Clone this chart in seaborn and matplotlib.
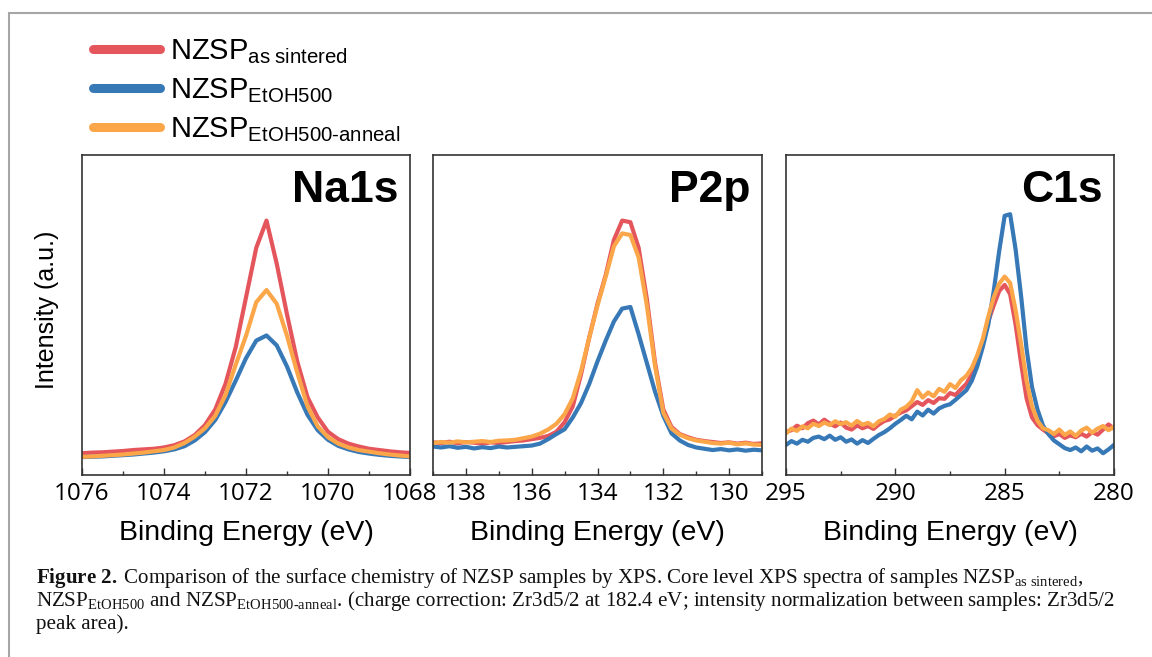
import numpy as np
import pandas as pd
import matplotlib
matplotlib.use("Agg")
import matplotlib.pyplot as plt
import seaborn as sns
from matplotlib import font_manager
from matplotlib.lines import Line2D
from matplotlib.ticker import MultipleLocator

# ---------------- data ----------------
SAMPLES = ["as sintered", "EtOH500", "EtOH500-anneal"]
COLORS = ["#E4555C", "#3778B6", "#FBA649"]
PANEL_TITLES = ["Na1s", "P2p", "C1s"]

NA_EV = np.arange(1076.0, 1067.99, -0.25)
NA_AS_SINTERED = [6.8, 7.0, 7.1, 7.3, 7.5, 7.8, 8.0, 8.2, 8.6, 9.3,
                  10.5, 12.5, 15.6, 20.5, 28.5, 40.0, 55.5, 71.0, 79.5, 66.0,
                  50.2, 35.5, 24.3, 18.0, 13.5, 11.2, 9.8, 8.9, 8.2, 7.8,
                  7.4, 7.1, 6.9]
NA_ETOH500 = [5.6, 5.7, 5.8, 6.0, 6.2, 6.4, 6.7, 7.0, 7.4, 8.0,
              9.0, 10.8, 13.4, 17.2, 22.8, 29.5, 36.5, 42.0, 43.6, 40.5,
              33.9, 25.8, 18.8, 14.0, 11.0, 9.1, 8.0, 7.2, 6.7, 6.3,
              6.0, 5.8, 5.6]
NA_ETOH500_ANNEAL = [5.7, 5.8, 6.0, 6.2, 6.4, 6.7, 7.0, 7.4, 7.8, 8.6,
                     10.0, 12.0, 14.6, 18.5, 25.0, 34.5, 43.5, 54.0, 57.8, 53.5,
                     43.5, 32.0, 21.5, 15.2, 11.8, 9.8, 8.6, 7.8, 7.3, 6.8,
                     6.4, 6.1, 5.8]

P_EV = np.arange(139.0, 128.99, -0.25)
P_AS_SINTERED = [10.2, 10.0, 10.4, 9.9, 10.3, 10.1, 9.8, 10.2, 10.0, 10.3,
                 10.6, 10.8, 11.2, 11.6, 12.2, 13.5, 16.5, 21.5, 31.5, 43.0,
                 53.5, 62.5, 73.5, 79.5, 79.0, 71.0, 55.0, 35.0, 20.5, 15.0,
                 12.8, 11.8, 11.0, 10.6, 10.3, 10.0, 10.2, 9.8, 10.1, 9.7,
                 9.9]
P_ETOH500 = [8.9, 8.6, 9.0, 8.5, 8.8, 8.3, 8.7, 8.4, 8.9, 8.6,
             8.8, 9.0, 9.2, 9.8, 11.2, 12.8, 14.3, 18.0, 22.5, 28.5,
             35.5, 42.0, 48.0, 52.0, 52.5, 44.0, 35.0, 26.0, 18.5, 13.0,
             10.8, 9.4, 8.6, 8.2, 7.8, 8.1, 7.7, 8.0, 7.6, 7.9,
             7.7]
P_ETOH500_ANNEAL = [10.0, 10.3, 10.1, 10.5, 10.2, 10.4, 10.6, 10.3, 10.7, 10.8,
                    11.0, 11.5, 12.0, 12.9, 14.2, 16.0, 19.0, 24.0, 32.5, 43.0,
                    53.0, 62.0, 71.5, 75.5, 75.0, 68.0, 53.0, 34.0, 19.5, 14.5,
                    12.6, 11.5, 10.8, 10.4, 10.0, 9.8, 10.1, 9.6, 9.9, 9.5,
                    9.4]

C_EV = np.arange(295.0, 279.99, -0.25)
C_AS_SINTERED = [13.5, 14.0, 15.4, 14.6, 16.2, 17.0, 15.8, 17.3, 16.1, 15.2,
                 16.4, 14.8, 14.2, 15.5, 14.6, 15.3, 14.4, 15.8, 16.9, 17.4,
                 18.6, 19.5, 20.2, 21.5, 22.8, 21.9, 23.4, 22.5, 24.0, 23.8,
                 25.6, 25.0, 26.8, 28.5, 31.5, 36.0, 41.5, 48.0, 53.0, 57.5,
                 59.4, 56.5, 47.0, 35.0, 24.0, 18.0, 15.6, 14.2, 13.0, 12.1,
                 12.8, 11.6, 12.4, 11.8, 12.9, 12.0, 13.4, 12.6, 14.2, 15.8,
                 14.5]
C_ETOH500 = [9.4, 10.6, 9.8, 11.0, 10.4, 11.6, 12.0, 11.2, 12.3, 11.0,
             11.8, 10.4, 11.1, 9.8, 10.9, 10.0, 11.3, 12.5, 13.4, 14.6,
             16.0, 17.2, 18.5, 17.4, 19.8, 18.6, 20.4, 19.2, 20.8, 21.6,
             22.1, 23.5, 25.0, 26.5, 29.5, 34.0, 40.0, 47.0, 57.5, 70.0,
             81.0, 81.5, 70.5, 56.0, 39.5, 27.5, 20.5, 15.5, 12.8, 10.8,
             9.6, 8.4, 7.8, 8.6, 7.4, 8.9, 7.6, 8.3, 6.8, 8.0,
             9.4]
C_ETOH500_ANNEAL = [13.0, 14.5, 13.8, 15.2, 14.6, 16.0, 15.3, 16.4, 15.6, 16.8,
                    15.9, 16.5, 15.4, 16.9, 15.7, 16.3, 15.2, 16.8, 17.5, 18.9,
                    18.2, 20.4, 21.3, 23.0, 26.5, 24.2, 25.8, 24.6, 26.9, 26.0,
                    28.4, 27.2, 29.6, 31.0, 33.5, 37.5, 42.5, 49.5, 55.5, 59.8,
                    62.0, 60.0, 51.5, 41.0, 29.5, 21.5, 17.0, 14.6, 14.0, 12.8,
                    14.2, 12.5, 13.6, 12.2, 13.9, 14.8, 13.2, 14.5, 15.3, 14.0,
                    15.1]

XLIMS = [(1076, 1068), (139, 129), (295, 280)]
MAJOR_STEP = [2, 2, 5]
MINOR_STEP = [1, 1, 2.5]

PANELS = [
    (NA_EV, [NA_AS_SINTERED, NA_ETOH500, NA_ETOH500_ANNEAL]),
    (P_EV, [P_AS_SINTERED, P_ETOH500, P_ETOH500_ANNEAL]),
    (C_EV, [C_AS_SINTERED, C_ETOH500, C_ETOH500_ANNEAL]),
]

# ---------------- style ----------------
sns.set_theme(style="white")


def have(fam):
    try:
        font_manager.findfont(font_manager.FontProperties(family=fam),
                              fallback_to_default=False)
        return True
    except Exception:
        return False


SANS = "Liberation Sans" if have("Liberation Sans") else "DejaVu Sans"
NARROW = "Liberation Sans Narrow" if have("Liberation Sans Narrow") else SANS
LEG_SIZE = 24 if NARROW != SANS else 21
TICKF = "Open Sans" if have("Open Sans") else SANS
SERIF = "Liberation Serif" if have("Liberation Serif") else "DejaVu Serif"

plt.rcParams["font.family"] = [SANS, "DejaVu Sans"]
plt.rcParams["text.color"] = "black"
plt.rcParams["axes.labelcolor"] = "black"
plt.rcParams["xtick.color"] = "black"
plt.rcParams["mathtext.fontset"] = "custom"
plt.rcParams["mathtext.rm"] = SERIF
plt.rcParams["mathtext.it"] = SERIF + ":italic"
plt.rcParams["mathtext.bf"] = SERIF + ":bold"

W, H = 1152, 657
fig = plt.figure(figsize=(W / 100, H / 100), dpi=100)
fig.patch.set_facecolor("white")

ax_px = [(82, 410), (433, 762), (786, 1114)]
top_px, bot_px = 155, 475
palette = dict(zip(SAMPLES, COLORS))

axes = []
for i, ((ev, series), (x0, x1)) in enumerate(zip(PANELS, ax_px)):
    ax = fig.add_axes([x0 / W, 1 - bot_px / H, (x1 - x0) / W, (bot_px - top_px) / H])
    frames = []
    for name, vals in zip(SAMPLES, series):
        frames.append(pd.DataFrame({"eV": ev, "I": vals, "sample": name}))
    df = pd.concat(frames, ignore_index=True)
    sns.lineplot(data=df, x="eV", y="I", hue="sample", hue_order=SAMPLES,
                 palette=palette, sort=False, estimator=None, linewidth=3.0,
                 legend=False, ax=ax)
    ax.set_xlim(*XLIMS[i])
    ax.set_ylim(0, 100)
    ax.set_yticks([])
    ax.set_ylabel("")
    ax.xaxis.set_major_locator(MultipleLocator(MAJOR_STEP[i]))
    ax.xaxis.set_minor_locator(MultipleLocator(MINOR_STEP[i]))
    ax.tick_params(axis="x", which="major", direction="in", length=5, width=1.0,
                   color="#333333", labelcolor="black", pad=5, labelsize=17.5,
                   bottom=True)
    ax.tick_params(axis="x", which="minor", direction="in", length=3, width=1.0,
                   color="#333333", bottom=True)
    for lab in ax.get_xticklabels():
        lab.set_family([TICKF, "DejaVu Sans"])
    for sp in ax.spines.values():
        sp.set_color("#333333")
        sp.set_linewidth(1.2)
        sp.set_visible(True)
    ax.set_xlabel("Binding Energy (eV)", fontsize=20.5, labelpad=10,
                  family=[SANS, "DejaVu Sans"], color="black")
    ax.text(0.966, 0.952, PANEL_TITLES[i], transform=ax.transAxes, ha="right",
            va="top", fontsize=32, fontweight="bold", color="black",
            family=[SANS, "DejaVu Sans"])
    ax.set_facecolor("white")
    axes.append(ax)

fig.text(47 / W, 1 - 310 / H, "Intensity (a.u.)", rotation=90, ha="center",
         va="center", fontsize=18, color="black", family=[SANS, "DejaVu Sans"])

# legend
leg_px = LEG_SIZE * 100 / 72
handles = [Line2D([0], [0], color=c, lw=6.5, solid_capstyle="round") for c in COLORS]
labels = [r"$\mathregular{NZSP_{as\ sintered}}$",
          r"$\mathregular{NZSP_{EtOH500}}$",
          r"$\mathregular{NZSP_{EtOH500‐anneal}}$"]
leg = fig.legend(handles, labels, loc="upper left",
                 bbox_to_anchor=(93 / W, 1 - 37 / H), frameon=False,
                 prop=font_manager.FontProperties(family=NARROW, size=LEG_SIZE),
                 handlelength=66.5 / leg_px, handletextpad=11 / leg_px,
                 labelspacing=10.5 / leg_px, borderpad=0, borderaxespad=0)
for t in leg.get_texts():
    t.set_color("black")

# page border
fig.add_artist(Line2D([9 / W, 9 / W], [0, 1 - 13 / H], transform=fig.transFigure,
                      color="#a6a6a6", lw=1.5))
fig.add_artist(Line2D([9 / W, 1], [1 - 13 / H, 1 - 13 / H], transform=fig.transFigure,
                      color="#a6a6a6", lw=1.5))

# caption
cap_lines = [
    r"$\mathbf{Figure\ 2.}\;$Comparison of the surface chemistry of NZSP samples by XPS. "
    r"Core level XPS spectra of samples $\mathregular{NZSP_{as\ sintered}}$,",
    r"$\mathregular{NZSP_{EtOH500}}$ and $\mathregular{NZSP_{EtOH500‐anneal}}$. "
    r"(charge correction: Zr3d5/2 at 182.4 eV; intensity normalization between samples: Zr3d5/2",
    "peak area).",
]
cap_base = [583, 606, 629]
texts = []
for s, yb in zip(cap_lines, cap_base):
    t = fig.text(36 / W, 1 - yb / H, s, ha="left", va="baseline", fontsize=14,
                 family=[SERIF, "DejaVu Serif"], color="#111111")
    texts.append(t)

fig.canvas.draw()
r = fig.canvas.get_renderer()
w2 = texts[1].get_window_extent(renderer=r).width
scale = (1116 - 36) / w2
for t in texts:
    t.set_fontsize(14 * scale)

fig.savefig("out.png", dpi=100, facecolor="white")
